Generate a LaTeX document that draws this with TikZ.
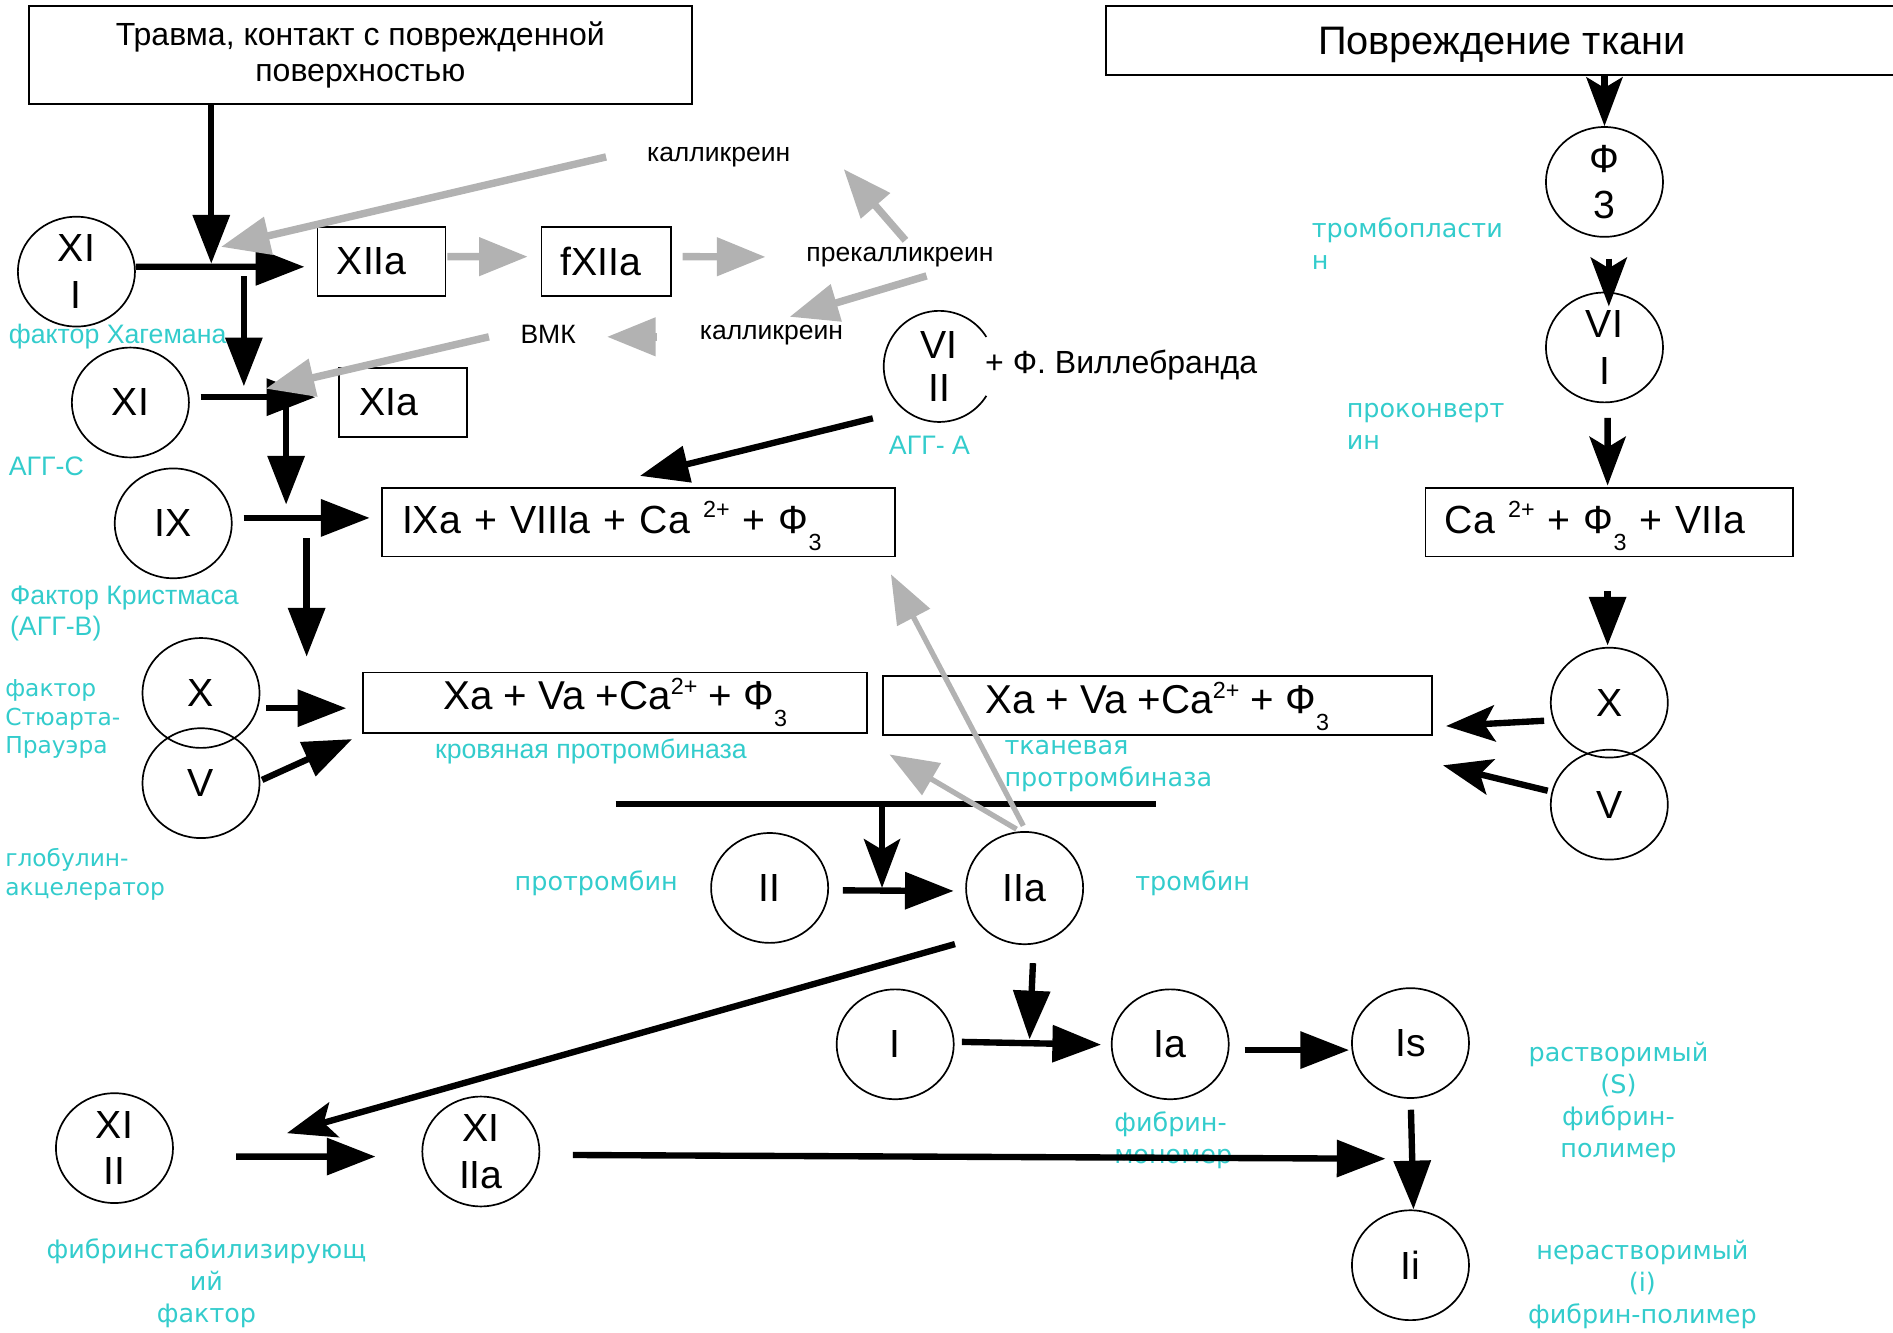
\documentclass[tikz,border=0pt]{standalone}
\usepackage{fontspec}
\setmainfont{Liberation Sans}
\newfontfamily\cyfont{DejaVu Sans}
\usetikzlibrary{arrows.meta,shapes.geometric,calc}
\definecolor{cyanc}{RGB}{51,204,204}
\definecolor{grayc}{RGB}{178,178,178}
\newcommand{\supx}[1]{\raisebox{7.2pt}{\fontsize{11}{11}\selectfont #1}}
\newcommand{\subx}[1]{\raisebox{-8pt}{\fontsize{11}{11}\selectfont #1}}
\begin{document}
\begin{tikzpicture}[x=0.02cm,y=-0.02cm,
  circ/.style={ellipse, draw, line width=0.8pt, minimum width=1.94cm, minimum height=1.82cm, inner sep=0pt, align=center, font=\fontsize{18.5}{22}\selectfont},
  boxn/.style={rectangle, draw, line width=0.9pt, inner sep=0pt, font=\fontsize{18.5}{22}\selectfont},
  lbl/.style={text=cyanc, font=\cyfont\fontsize{12}{15.1}\selectfont, inner sep=0pt, align=left},
  lbls/.style={text=cyanc, font=\cyfont\fontsize{11}{13.6}\selectfont, inner sep=0pt, align=left},
  lbla/.style={text=cyanc, font=\fontsize{12.6}{14.8}\selectfont, inner sep=0pt, align=left},
  smalltxt/.style={font=\fontsize{12.5}{15}\selectfont, inner sep=0pt},
  blk/.style={line width=3pt, -{Triangle[length=23pt,width=17pt]}},
  blks/.style={line width=3pt, -{Stealth[length=23pt,width=17pt,inset=5pt]}},
  gry/.style={draw=grayc, line width=3.5pt, -{Triangle[length=23pt,width=17.5pt,color=grayc]}},
  gryt/.style={draw=grayc, line width=2.5pt, -{Triangle[length=23pt,width=17pt,color=grayc]}}
]
\useasboundingbox (0,0) rectangle (1568,1104);

% ---- boxes ----
\node[boxn, minimum width=10.98cm, minimum height=1.62cm, align=center, font=\fontsize{15.1}{17}\selectfont] (box1) at (298.5,45.5) {Травма, контакт с поврежденной\\поверхностью};
\node[boxn, minimum width=13.12cm, minimum height=1.15cm, text height=16pt, text depth=2.75pt, font=\fontsize{18.75}{22}\selectfont] (box2) at (1244,33.75) {Повреждение ткани};
\node[boxn, inner xsep=0.32cm, text width=1.48cm, align=left, minimum height=1.14cm] (xiia) at (316,216.5) {XIIa};
\node[boxn, inner xsep=0.31cm, text width=1.52cm, align=left, minimum height=1.14cm] (fxiia) at (502,216.8) {fXIIa};
\node[boxn, inner xsep=0.33cm, text width=1.46cm, align=left, minimum height=1.154cm] (xia) at (334,333.4) {XIa};
\node[boxn, inner xsep=0.34cm, text width=7.82cm, align=left, minimum height=1.14cm, text height=16pt, text depth=5.6pt] (ixa) at (528.5,432.5) {IXa + VIIIa + Ca \supx{2+} + Ф\subx{3}};
\node[boxn, minimum width=8.34cm, minimum height=1.0cm, text height=16pt, text depth=9.2pt, font=\fontsize{19}{22}\selectfont] (xal) at (509.5,582) {Xa + Va +Ca\supx{2+} + Ф\subx{3}};
\node[boxn, minimum width=9.1cm, minimum height=0.99cm, text height=16pt, text depth=8.5pt, font=\fontsize{19}{22}\selectfont] (xar) at (958.5,584.4) {Xa + Va +Ca\supx{2+} + Ф\subx{3}};
\node[boxn, inner xsep=0.32cm, text width=5.45cm, align=left, minimum height=1.14cm, text height=16pt, text depth=5.6pt] (car) at (1333,432.5) {Ca \supx{2+} + Ф\subx{3} + VIIa};

% ---- circles ----
\node[circ] (xii) at (63.3,225) {XI\\I};
\node[circ] (xi) at (108,333.4) {XI};
\node[circ] (ix) at (143.5,433.5) {IX};
\node[circ] (xl) at (166.5,574) {X};
\node[circ] (vl) at (166.5,648.7) {V};
\node[circ] (f3) at (1329,150.7) {Ф\\3};
\node[circ] (vii) at (1329,287.8) {VI\\I};
\node[circ] (xr) at (1333,582) {X};
\node[circ] (vr) at (1333,666.5) {V};
\node[circ] (ii) at (637.5,735.5) {II};
\node[circ, minimum height=1.86cm] (iia) at (848.7,735.6) {IIa};
\node[circ] (i) at (741.5,865) {I};
\node[circ] (ia) at (969.3,865) {Ia};
\node[circ] (is) at (1168.3,864) {Is};
\node[circ] (ii2) at (1168.3,1048) {Ii};
\node[circ] (xiii) at (94.8,951) {XI\\II};
\node[circ] (xiiia) at (398.3,953.8) {XI\\IIa};
% partial circle VIII
\node[ellipse, minimum width=1.84cm, minimum height=1.84cm, inner sep=0pt, align=center, font=\fontsize{18.5}{20.3}\selectfont] (viii) at (778,303.5) {VI\\II};
\draw[line width=0.8pt, shift={(viii.center)}] plot[domain=32:328, samples=90, smooth] ({46*cos(\x)},{46*sin(\x)});
\node[font=\fontsize{15.1}{17}\selectfont, anchor=west, inner sep=0pt] (vw) at (815.7,302) {+ Ф. Виллебранда};

% ---- small black labels ----
\node[smalltxt] (kal1) at (595.3,130) {калликреин};
\node[smalltxt] (prekal) at (745.5,213) {прекалликреин};
\node[smalltxt] (kal2) at (639,278) {калликреин};
\node[smalltxt] (vmk) at (454,277) {ВМК};

% ---- cyan labels ----
\node[lbla, anchor=west] (lhag) at (7,279) {фактор Хагемана};
\node[lbla, anchor=west] (laggc) at (7,386.5) {АГГ-С};
\node[lbla, anchor=west] (lkris) at (8,508) {Фактор Кристмаса\\(АГГ-В)};
\node[lbls, anchor=west] (lstu) at (4,595.5) {фактор\\Стюарта-\\Прауэра};
\node[lbls, anchor=west] (lglob) at (4,724.5) {глобулин-\\акцелератор};
\node[lbl, anchor=west] (lprot) at (426,731.6) {протромбин};
\node[lbla, anchor=west] (lkrov) at (360,622.6) {кровяная протромбиназа};
\node[lbl, anchor=west] (ltkan) at (831.7,634.5) {тканевая\\протромбиназа};
\node[lbl, anchor=west] (ltromb) at (940,732) {тромбин};
\node[lbla, anchor=west] (lagga) at (736,368.6) {АГГ- А};
\node[lbl, anchor=west] (ltpl) at (1086.3,202) {тромбопласти\\н};
\node[lbl, anchor=west] (lprok) at (1115.2,353.4) {проконверт\\ин};
\node[lbl, align=center] (lrast) at (1340.6,913.3) {растворимый\\(S)\\фибрин-\\полимер};
\node[lbl, align=center] (lnerast) at (1360.4,1063.6) {нерастворимый\\(i)\\фибрин-полимер};
\node[lbl, anchor=west] (lmono) at (922.6,944.8) {фибрин-\\мономер};
\node[lbl, align=center] (lfsf) at (171,1063) {фибринстабилизирующ\\ий\\фактор};

% ---- junction coordinates ----
\coordinate (jA) at (175,218.5);
\coordinate (dA1) at (202,229);
\coordinate (dA2) at (202,320);
\coordinate (dB1) at (237,331);
\coordinate (dB2) at (237,418);
\coordinate (dC1) at (254,446);
\coordinate (dC2) at (254,544);
\coordinate (hL) at (510,666);
\coordinate (hR) at (957.6,666);
\coordinate (hD) at (730.6,666);
\coordinate (jII) at (730.6,735.5);
\coordinate (jX) at (237.7,938.6);
\coordinate (jI) at (852.8,861);
\coordinate (jS) at (1147.7,959.8);
\coordinate (gA) at (183,204.5);
\coordinate (gB) at (220,322);

% ---- black connectors ----
\draw[blk] (box1.south -| jA) -- (jA);
\draw[blk] ($(xii.east)+(0,-4)$) -- ($(xiia.west)+(-10,4.5)$);
\draw[blk] (dA1) -- (dA2);
\draw[blk] ($(xi.east)+(9,-4.4)$) -- ($(xia.west)+(-19,-4.4)$);
\draw[blk] (dB1) -- (dB2);
\draw[blk] ($(ix.east)+(9,-4.5)$) -- ($(ixa.west)+(-9,-3.5)$);
\draw[blk] (dC1) -- (dC2);
\draw[blk] ($(xl.east)+(4.7,12.6)$) -- ($(xal.west)+(-13.4,4.6)$);
\draw[blk] ($(vl.east)+(1.4,-2.7)$) -- ($(xal.south west)+(-8.5,4.4)$);
\draw[blk] ($(viii.center)+(-55,43)$) -- ($(ixa.north)+(1.5,-9)$);
\draw[line width=3pt] (hL) -- (hR);
\draw[blks] (hD) -- (jII);
\draw[blk] ($(ii.east)+(11.5,2)$) -- ($(iia.west)+(-9.5,2.4)$);
\draw[blks] ($(iia.center)+(-57.7,46.4)$) -- (jX);
\draw[blk] ($(iia.south)+(6.9,15)$) -- (jI);
\draw[blk] ($(i.east)+(6,-2)$) -- ($(ia.west)+(-8,0.3)$);
\draw[blk] ($(ia.east)+(12.5,4.8)$) -- ($(is.west)+(-1.6,5.8)$);
\draw[blk] ($(is.south)+(0.4,9)$) -- ($(ii2.north)+(2.5,0)$);
\draw[blk] ($(xiii.east)+(51.5,7)$) -- ($(xiiia.west)+(-38,4.2)$);
\draw[blk] ($(xiiia.east)+(27,2.9)$) -- (jS);
\draw[blks] (box2.south -| f3) -- (f3.north);
\draw[blks] ($(f3.south)+(3.6,17.3)$) -- ($(vii.north)+(3.6,12.2)$);
\draw[blks] ($(vii.south)+(2.6,12.2)$) -- ($(car.north)+(-1.4,-1)$);
\draw[blk] ($(car.south)+(-1.4,27.7)$) -- ($(xr.north)+(-1.4,-1)$);
\draw[blks] ($(xr.west)+(-4.8,15)$) -- ($(xar.east)+(11,17)$);
\draw[blks] ($(vr.west)+(-1.8,-11.5)$) -- ($(xar.south east)+(8.5,24)$);

% ---- gray connectors ----
\draw[gry] ($(kal1.west)+(-33.6,0)$) -- (gA);
\draw[gry] ($(xiia.east)+(0.8,-3.9)$) -- ($(fxiia.west)+(-10.5,-4.2)$);
\draw[gry] ($(fxiia.east)+(9.2,-4.2)$) -- ($(prekal.west)+(-33.5,-0.2)$);
\draw[gry] ($(prekal.north)+(4.5,-5.4)$) -- ($(kal1.east)+(43.8,10)$);
\draw[gry] ($(prekal.south)+(22,7)$) -- ($(kal2.north)+(15,-7)$);
\draw[gry] ($(kal2.west)+(-35,1)$) -- ($(vmk.east)+(25.5,2)$);
\draw[gry] ($(vmk.west)+(-25.8,2)$) -- (gB);
\draw[gryt] ($(iia.north)+(-1.1,-4.4)$) -- ($(ixa.south east)+(-3.8,13.9)$);
\draw[gryt] ($(iia.north)+(-6.7,-1.6)$) -- ($(xar.south west)+(6.5,15)$);
\end{tikzpicture}
\end{document}
